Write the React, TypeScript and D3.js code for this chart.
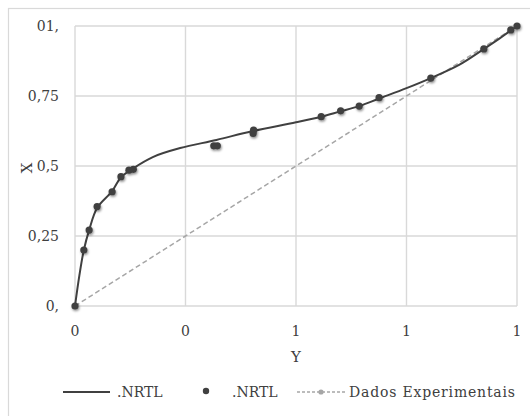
import React from "react";
import * as d3 from "d3";

// equilibrium data
const expX = [0, 0.02, 0.032, 0.05, 0.084, 0.104, 0.122, 0.132, 0.314, 0.322, 0.403, 0.404, 0.557, 0.601, 0.643, 0.688, 0.805, 0.925, 0.986, 1];
const expY = [0, 0.2, 0.271, 0.355, 0.408, 0.462, 0.485, 0.488, 0.572, 0.572, 0.616, 0.628, 0.676, 0.697, 0.714, 0.744, 0.814, 0.918, 0.986, 1];

const curveX = [0, 0.01, 0.02, 0.032, 0.05, 0.084, 0.104, 0.13, 0.176, 0.238, 0.32, 0.4, 0.5, 0.557, 0.6, 0.643, 0.688, 0.75, 0.805, 0.87, 0.925, 0.96, 1];
const curveY = [0, 0.11, 0.2, 0.271, 0.35, 0.41, 0.46, 0.49, 0.532, 0.564, 0.593, 0.624, 0.656, 0.676, 0.695, 0.714, 0.741, 0.778, 0.814, 0.862, 0.918, 0.955, 1];

const diagX = [0, 1];
const diagY = [0, 1];

const xTicks = [0, 0.25, 0.5, 0.75, 1];
const xTickLabels = ["0", "0", "1", "1", "1"];
const yTicks = [0, 0.25, 0.5, 0.75, 1];
const yTickLabels = ["0,", "0,25", "0,5", "0,75", "01,"];

const legendLabels = [".NRTL", ".NRTL", "Dados Experimentais"];

const App = () => {
  const width = 530;
  const height = 416;
  const margin = { left: 75, right: 13, top: 26, bottom: 110 };

  const x = d3.scaleLinear().domain([0, 1]).range([margin.left, width - margin.right]);
  const y = d3.scaleLinear().domain([0, 1]).range([height - margin.bottom, margin.top]);

  const font = "'DejaVu Serif', serif";
  const grid = "#d9d9d9";
  const dark = "#404040";

  const curve = d3
    .line<number>()
    .x((d) => x(d))
    .y((d, i) => y(curveY[i]))
    .curve(d3.curveCatmullRom.alpha(0.5));

  const diag = d3
    .line<number>()
    .x((d) => x(d))
    .y((d, i) => y(diagY[i]));

  return (
    <svg
      width={width}
      height={height}
      style={{ position: "absolute", left: 0, top: 0, background: "#fff" }}
    >
      <defs>
        <filter id="shadow" x="-50%" y="-50%" width="200%" height="200%">
          <feDropShadow dx="0.8" dy="1.5" stdDeviation="1.2" floodColor="#000" floodOpacity="0.45" />
        </filter>
      </defs>
      {/* outer chart border */}
      <rect x={8.5} y={8.5} width={width} height={height} fill="none" stroke={grid} strokeWidth={1.2} />

      {/* grid */}
      {yTicks.map((t) => (
        <line key={"gy" + t} x1={x(0)} x2={x(1)} y1={y(t)} y2={y(t)} stroke={grid} strokeWidth={1.4} />
      ))}
      {xTicks.map((t) => (
        <line key={"gx" + t} x1={x(t)} x2={x(t)} y1={y(0)} y2={y(1)} stroke={grid} strokeWidth={1.4} />
      ))}

      {/* tick labels */}
      {yTicks.map((t, i) => (
        <text key={"ty" + t} x={59} y={y(t) + 5} textAnchor="end" fontFamily={font} fontSize={14} fill="#404040">
          {yTickLabels[i]}
        </text>
      ))}
      {xTicks.map((t, i) => (
        <text key={"tx" + t} x={x(t)} y={336} textAnchor="middle" fontFamily={font} fontSize={14} fill="#404040">
          {xTickLabels[i]}
        </text>
      ))}

      {/* axis titles */}
      <text x={(x(0) + x(1)) / 2} y={362} textAnchor="middle" fontFamily={font} fontSize={15} fill="#404040">
        Y
      </text>
      <text
        transform={`translate(32, ${y(0.5) + 2}) rotate(-90)`}
        textAnchor="middle"
        fontFamily={font}
        fontSize={15}
        fill="#404040"
      >
        X
      </text>

      {/* diagonal */}
      <path d={diag(diagX) || ""} fill="none" stroke="#a6a6a6" strokeWidth={1.5} strokeDasharray="5,3" />

      {/* NRTL curve */}
      <path d={curve(curveX) || ""} fill="none" stroke={dark} strokeWidth={2} />

      {/* points */}
      <g filter="url(#shadow)">
        {expX.map((d, i) => (
          <circle key={"p" + i} cx={x(d)} cy={y(expY[i])} r={3.6} fill={dark} />
        ))}
      </g>

      {/* legend */}
      <g fontFamily={font} fontSize={14} fill="#404040">
        <line x1={63} x2={110} y1={392} y2={392} stroke={dark} strokeWidth={2} />
        <text x={117} y={397}>{legendLabels[0]}</text>
        <circle cx={206} cy={391} r={3.2} fill={dark} />
        <text x={232} y={397}>{legendLabels[1]}</text>
        <line x1={297} x2={345} y1={392} y2={392} stroke="#a6a6a6" strokeWidth={1.5} strokeDasharray="3,2" />
        <circle cx={321} cy={392} r={2.6} fill="#a6a6a6" />
        <text x={349} y={397} textLength={166} lengthAdjust="spacing">{legendLabels[2]}</text>
      </g>
    </svg>
  );
};

export default App;
